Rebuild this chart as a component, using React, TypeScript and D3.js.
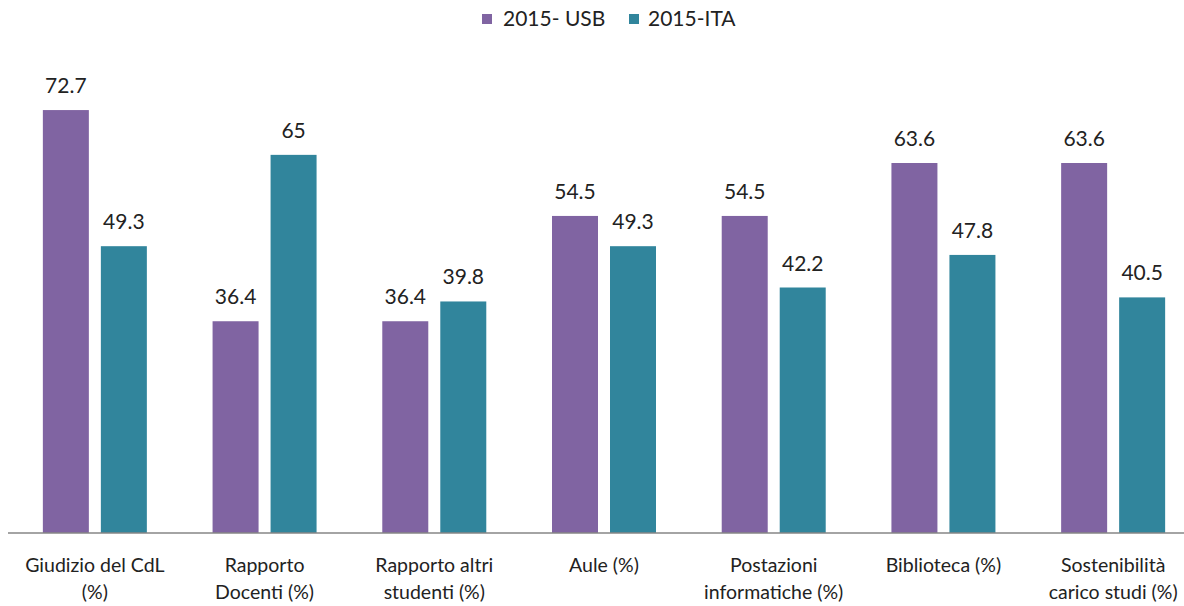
import React from "react";
import * as d3 from "d3";

const categories: string[][] = [
  ["Giudizio del CdL", "(%)"],
  ["Rapporto", "Docenti  (%)"],
  ["Rapporto altri", "studenti (%)"],
  ["Aule (%)"],
  ["Postazioni", "informatiche (%)"],
  ["Biblioteca (%)"],
  ["Sostenibilità", "carico studi (%)"],
];
const seriesNames = ["2015- USB", "2015-ITA"];
const usb = [72.7, 36.4, 36.4, 54.5, 54.5, 63.6, 63.6];
const ita = [49.3, 65, 39.8, 49.3, 42.2, 47.8, 40.5];
const colors = ["#8064A2", "#31859C"];

const W = 1184;
const H = 606;
const FONT = "Lato, 'Open Sans', sans-serif";

export default function App() {
  const x0 = d3
    .scaleBand<number>()
    .domain(d3.range(categories.length))
    .range([10, 1198])
    .paddingInner(0)
    .paddingOuter(0);
  const x1 = d3
    .scaleBand<number>()
    .domain([0, 1])
    .range([-52, 52])
    .paddingInner(12 / 58)
    .paddingOuter(0);
  const y = d3.scaleLinear().domain([0, 80]).range([533, 67.6]);
  const series = [usb, ita];

  return (
    <svg
      width={W}
      height={H}
      style={{ position: "absolute", left: 0, top: 0, background: "#fff" }}
      fontFamily={FONT}
    >
      <g>
        <rect x={482} y={14} width={10} height={10} fill={colors[0]} />
        <text x={503} y={26} fontSize={21} fill="#222">{seriesNames[0]}</text>
        <rect x={629} y={14} width={10} height={10} fill={colors[1]} />
        <text x={648} y={26} fontSize={21} fill="#222">{seriesNames[1]}</text>
      </g>
      {categories.map((c, i) => {
        const cx = (x0(i) as number) + x0.bandwidth() / 2;
        return (
          <g key={i}>
            {series.map((s, j) => {
              const bx = cx + (x1(j) as number);
              const bw = x1.bandwidth();
              return (
                <g key={j}>
                  <rect x={bx} y={y(s[i])} width={bw} height={y(0) - y(s[i])} fill={colors[j]} />
                  <text
                    x={bx + bw / 2}
                    y={y(s[i]) - 17}
                    textAnchor="middle"
                    fontSize={21}
                    fill="#222"
                  >
                    {s[i]}
                  </text>
                </g>
              );
            })}
            {c.map((line, k) => (
              <text
                key={k}
                x={cx}
                y={572 + k * 27}
                textAnchor="middle"
                fontSize={19.5}
                fill="#222"
              >
                {line}
              </text>
            ))}
          </g>
        );
      })}
      <line x1={8} x2={W} y1={y(0)} y2={y(0)} stroke="#868686" strokeWidth={1.5} />
    </svg>
  );
}
